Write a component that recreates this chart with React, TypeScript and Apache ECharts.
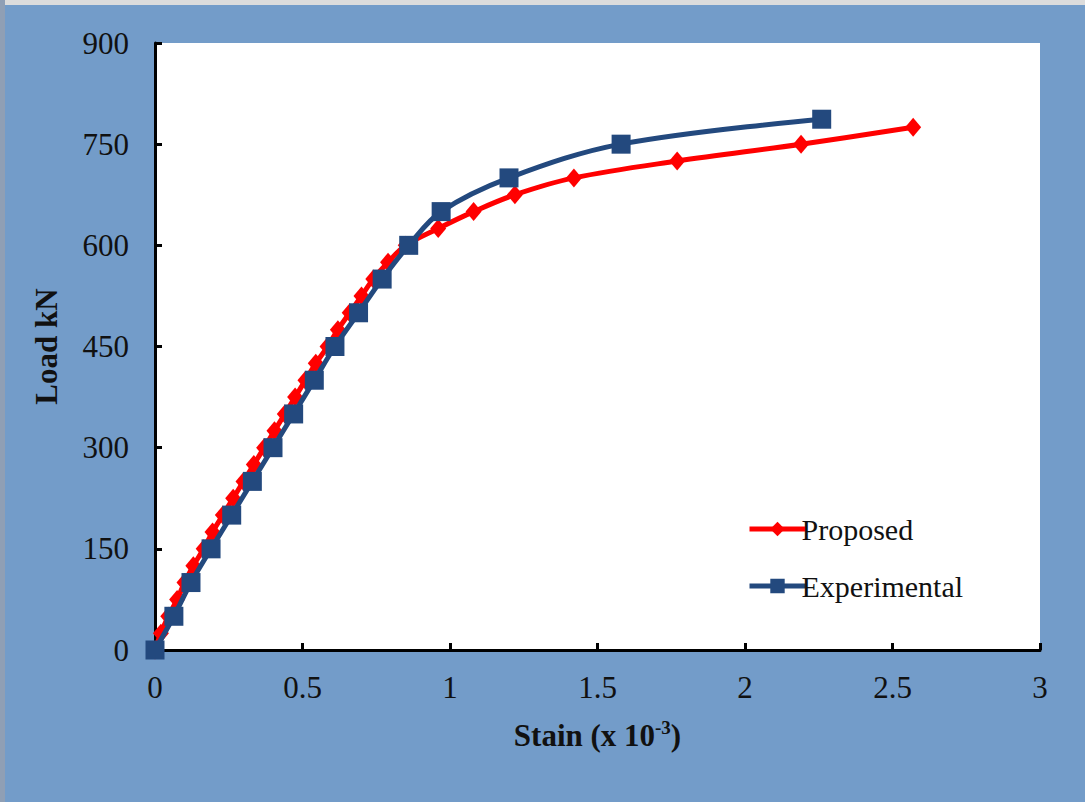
import React, { useEffect, useRef } from "react";
import * as echarts from "echarts";

const proposedStrain = [0, 0.02, 0.045, 0.075, 0.1, 0.13, 0.165, 0.195, 0.23, 0.265, 0.3, 0.335, 0.37, 0.405, 0.44, 0.475, 0.51, 0.545, 0.585, 0.62, 0.66, 0.7, 0.74, 0.79, 0.85, 0.96, 1.08, 1.22, 1.42, 1.77, 2.19, 2.57];
const proposedLoad = [0, 25, 50, 75, 100, 125, 150, 175, 200, 225, 250, 275, 300, 325, 350, 375, 400, 425, 450, 475, 500, 525, 550, 575, 600, 625, 650, 675, 700, 725, 750, 775];

const experimentalStrain = [0, 0.064, 0.122, 0.19, 0.26, 0.33, 0.4, 0.47, 0.54, 0.61, 0.69, 0.77, 0.86, 0.97, 1.2, 1.58, 2.26];
const experimentalLoad = [0, 50, 100, 150, 200, 250, 300, 350, 400, 450, 500, 550, 600, 650, 700, 750, 787];

const seriesNames = ["Proposed", "Experimental"];
const xTicks = { min: 0, max: 3, interval: 0.5 };
const yTicks = { min: 0, max: 900, interval: 150 };

const FONT = "'Liberation Serif', 'Times New Roman', serif";

export default function App() {
  const ref = useRef<HTMLDivElement>(null);
  useEffect(() => {
    if (!ref.current) return;
    const chart = echarts.init(ref.current, null, { renderer: "svg" });
    const axisLine = { show: true, onZero: false, lineStyle: { color: "#000", width: 3 } };
    chart.setOption({
      animation: false,
      backgroundColor: "#739CC9",
      graphic: [
        { type: "rect", left: 0, top: 0, shape: { width: 1085, height: 5 }, style: { fill: "#dcdcdc" }, silent: true },
        { type: "rect", left: 0, top: 0, shape: { width: 5, height: 802 }, style: { fill: "#8f9fb5" }, silent: true },
      ],
      grid: {
        left: 155,
        right: 45,
        top: 43,
        bottom: 152,
        show: true,
        backgroundColor: "#ffffff",
        borderWidth: 0,
      },
      legend: {
        orient: "vertical",
        left: 742,
        top: 509,
        itemGap: 27,
        itemWidth: 56,
        itemHeight: 18,
        lineStyle: { width: 5 },
        textStyle: { fontFamily: FONT, fontSize: 30, color: "#111", padding: [0, 0, 0, -9] },
        data: seriesNames,
      },
      xAxis: {
        type: "value",
        min: xTicks.min,
        max: xTicks.max,
        interval: xTicks.interval,
        axisLine,
        axisTick: { show: true, inside: true, length: 7, lineStyle: { color: "#000", width: 3 } },
        splitLine: { show: false },
        axisLabel: { fontFamily: FONT, fontSize: 31, color: "#111", margin: 22 },
        name: "{a|Stain (x 10}{s|-3}{a|)}",
        nameLocation: "middle",
        nameGap: 68,
        nameTextStyle: {
          rich: {
            a: { fontFamily: FONT, fontSize: 31, fontWeight: "bold", color: "#111", lineHeight: 34 },
            s: { fontFamily: FONT, fontSize: 19, fontWeight: "bold", color: "#111", verticalAlign: "top", lineHeight: 34, padding: [0, 0, 14, 0] },
          },
        },
      },
      yAxis: {
        type: "value",
        min: yTicks.min,
        max: yTicks.max,
        interval: yTicks.interval,
        axisLine,
        axisTick: { show: true, inside: true, length: 7, lineStyle: { color: "#000", width: 3 } },
        splitLine: { show: false },
        axisLabel: { fontFamily: FONT, fontSize: 31, color: "#111", margin: 26 },
        name: "Load kN",
        nameLocation: "middle",
        nameGap: 93,
        nameTextStyle: { fontFamily: FONT, fontSize: 31, fontWeight: "bold", color: "#111" },
      },
      series: [
        {
          name: seriesNames[0],
          type: "line",
          smooth: 0.35,
          data: proposedStrain.map((s, i) => [s, proposedLoad[i]]),
          symbol: "diamond",
          symbolSize: [16, 19],
          lineStyle: { color: "#FF0000", width: 5 },
          itemStyle: { color: "#FF0000" },
          z: 2,
        },
        {
          name: seriesNames[1],
          type: "line",
          smooth: 0.35,
          data: experimentalStrain.map((s, i) => [s, experimentalLoad[i]]),
          symbol: "rect",
          symbolSize: 19,
          lineStyle: { color: "#23497E", width: 5 },
          itemStyle: { color: "#23497E" },
          z: 3,
        },
      ],
    });
    return () => chart.dispose();
  }, []);
  return <div ref={ref} style={{ position: "fixed", left: 0, top: 0, width: 1085, height: 802 }} />;
}
